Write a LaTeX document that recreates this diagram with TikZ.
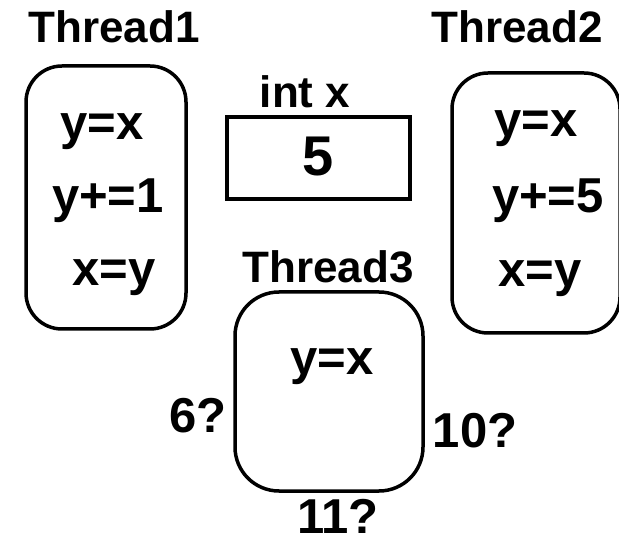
\documentclass[tikz,border=0pt]{standalone}
\usepackage{fontspec}
\setmainfont{Liberation Sans}
\begin{document}
\begin{tikzpicture}[x=1pt,y=-1pt,
  title/.style={font=\fontsize{44}{48}\selectfont\bfseries, inner sep=0, anchor=base},
  code/.style={font=\fontsize{49}{54}\selectfont\bfseries, inner sep=0, anchor=base},
  tbox/.style={draw, line width=3.5pt, inner sep=0, rounded corners=#1},
  tbox/.default=36pt]
\useasboundingbox (0,0) rectangle (619,545);
\begin{scope}
\clip (0,0) rectangle (619,545);
% Thread 1
\node[title] (t1) at (114,43) {Thread1};
\node[tbox, minimum width=160pt, minimum height=263pt] (b1) at (106,197.5) {};
\node[code] (t1a) at (102,140) {y=x};
\node[code] (t1b) at (108,213) {y+=1};
\node[code] (t1c) at (114,286) {x=y};
% shared variable
\node[title] (vx) at (305,108) {int x};
\node[draw, line width=3.5pt, minimum width=183pt, minimum height=82pt, inner sep=0] (xb) at (318.5,158) {};
\node[font=\fontsize{56}{60}\selectfont\bfseries, inner sep=0, anchor=base] (five) at (318,176) {5};
% Thread 2
\node[title] (t2) at (517,43) {Thread2};
\node[tbox, minimum width=168pt, minimum height=260pt] (b2) at (536,203) {};
\node[code] (t2a) at (536,137) {y=x};
\node[code] (t2b) at (548,213) {y+=5};
\node[code] (t2c) at (540,287) {x=y};
% Thread 3
\node[title] (t3) at (328,283) {Thread3};
\node[tbox=44pt, minimum width=188pt, minimum height=199pt] (b3) at (329,391.5) {};
\node[code] (t3a) at (332,375) {y=x};
\node[code] (r6) at (198,433) {6?};
\node[code] (r10) at (475,447) {10?};
\node[code] (r11) at (338,533) {11?};
\end{scope}
\end{tikzpicture}
\end{document}
